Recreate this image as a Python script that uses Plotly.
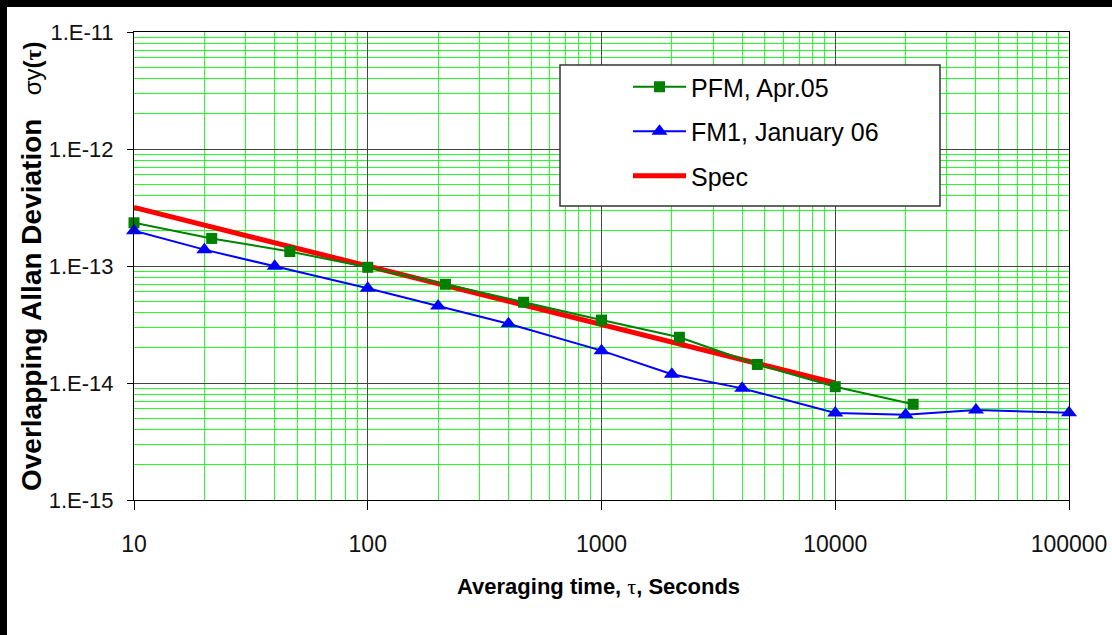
import plotly.graph_objects as go

# ---- data ----
pfm_tau = [10, 21.5, 46.4, 100, 215, 464, 1000, 2154, 4642, 10000, 21544]
pfm_adev = [2.34e-13, 1.72e-13, 1.33e-13, 9.75e-14, 6.98e-14, 4.9e-14,
            3.45e-14, 2.46e-14, 1.44e-14, 9.3e-15, 6.58e-15]

fm1_tau = [10, 20, 40, 100, 200, 400, 1000, 2000, 4000, 10000, 20000, 40000, 100000]
fm1_adev = [2.0e-13, 1.38e-13, 9.94e-14, 6.45e-14, 4.55e-14, 3.21e-14, 1.89e-14,
            1.19e-14, 9.0e-15, 5.55e-15, 5.36e-15, 5.88e-15, 5.57e-15]

spec_tau = [10, 100, 1000, 10000]
spec_adev = [3.16e-13, 1.0e-13, 3.16e-14, 1.0e-14]

x_tickvals = [10, 100, 1000, 10000, 100000]
x_ticktext = ["10", "100", "1000", "10000", "100000"]
y_tickvals = [1e-15, 1e-14, 1e-13, 1e-12, 1e-11]
y_ticktext = ["1.E-15", "1.E-14", "1.E-13", "1.E-12", "1.E-11"]

FONT = "Liberation Sans, Arial, sans-serif"
W, H = 1112, 635
L, R, T, B = 134, 43, 32, 135
PW, PH = W - L - R, H - T - B


def px(xp):
    return (xp - L) / PW


def py(yp):
    return (H - B - yp) / PH


fig = go.Figure()
fig.add_trace(go.Scatter(x=spec_tau, y=spec_adev, mode="lines", name="Spec",
                         line=dict(color="#FF0000", width=5), legendrank=3,
                         legendgroup="c"))
fig.add_trace(go.Scatter(x=pfm_tau, y=pfm_adev, mode="lines+markers", name="PFM, Apr.05",
                         line=dict(color="#008000", width=2),
                         marker=dict(symbol="square", size=11, color="#008000"),
                         cliponaxis=False, legendrank=1, legendgroup="a"))
fig.add_trace(go.Scatter(x=fm1_tau, y=fm1_adev, mode="lines+markers", name="FM1, January 06",
                         line=dict(color="#0000FF", width=2),
                         marker=dict(symbol="triangle-up", size=14, color="#0000FF"),
                         cliponaxis=False, legendrank=2, legendgroup="b"))

grid_green = "#22FF22"
common = dict(type="log", showgrid=True, gridcolor="#444444", gridwidth=1,
              tickcolor="#000000", tickwidth=1, automargin=False,
              showline=True, linecolor="#000000", linewidth=1, mirror=True)
fig.update_xaxes(range=[1, 5], tickvals=x_tickvals, ticktext=x_ticktext,
                 minor=dict(dtick="D1", showgrid=True, gridcolor=grid_green, gridwidth=1, ticks=""),
                 ticks="outside", ticklen=9, ticklabelstandoff=14,
                 tickfont=dict(family=FONT, size=23, color="#111111"), **common)
fig.update_yaxes(range=[-15, -11], tickvals=y_tickvals, ticktext=y_ticktext,
                 minor=dict(dtick="D1", showgrid=True, gridcolor=grid_green, gridwidth=1, ticks=""),
                 ticks="outside", ticklen=6, ticklabelstandoff=9,
                 tickfont=dict(family=FONT, size=22, color="#111111"), **common)

shapes = [
    # legend box
    dict(type="rect", xref="paper", yref="paper", x0=px(560), x1=px(940), y0=py(206), y1=py(65),
         fillcolor="#FFFFFF", line=dict(color="#333333", width=1.5), layer="above"),
    # black frame strips at left and top of the picture
    dict(type="rect", xref="paper", yref="paper", x0=px(0), x1=px(7), y0=py(H), y1=py(0),
         fillcolor="#000000", line=dict(width=0), layer="above"),
    dict(type="rect", xref="paper", yref="paper", x0=px(0), x1=px(W), y0=py(7), y1=py(0),
         fillcolor="#000000", line=dict(width=0), layer="above"),
]

annotations = [
    dict(text="<b>Averaging time, </b><span style='font-family:Liberation Serif'>τ</span><b>, Seconds</b>",
         xref="paper", yref="paper", x=px(598), y=py(586), xanchor="center", yanchor="middle",
         showarrow=False, font=dict(family=FONT, size=22, color="#000000")),
    dict(text="<b>Overlapping Allan Deviation</b>   <span style='font-size:24px'>σy<b>(</b>"
              "<span style='font-family:Liberation Serif'><b>τ</b></span><b>)</b></span>",
         xref="paper", yref="paper", x=px(31), y=py(266), xanchor="center", yanchor="middle",
         textangle=-90, showarrow=False, font=dict(family=FONT, size=28, color="#000000")),
]

fig.update_layout(
    width=W, height=H,
    margin=dict(l=L, r=R, t=T, b=B, pad=0, autoexpand=False),
    paper_bgcolor="#FFFFFF", plot_bgcolor="#FFFFFF",
    showlegend=True,
    legend=dict(x=px(628), y=py(64), xanchor="left", yanchor="top",
                bgcolor="rgba(0,0,0,0)", borderwidth=0,
                font=dict(family=FONT, size=25, color="#000000"),
                traceorder="grouped", tracegroupgap=9, itemwidth=53),
    shapes=shapes, annotations=annotations,
)

fig.write_html("out.html")
